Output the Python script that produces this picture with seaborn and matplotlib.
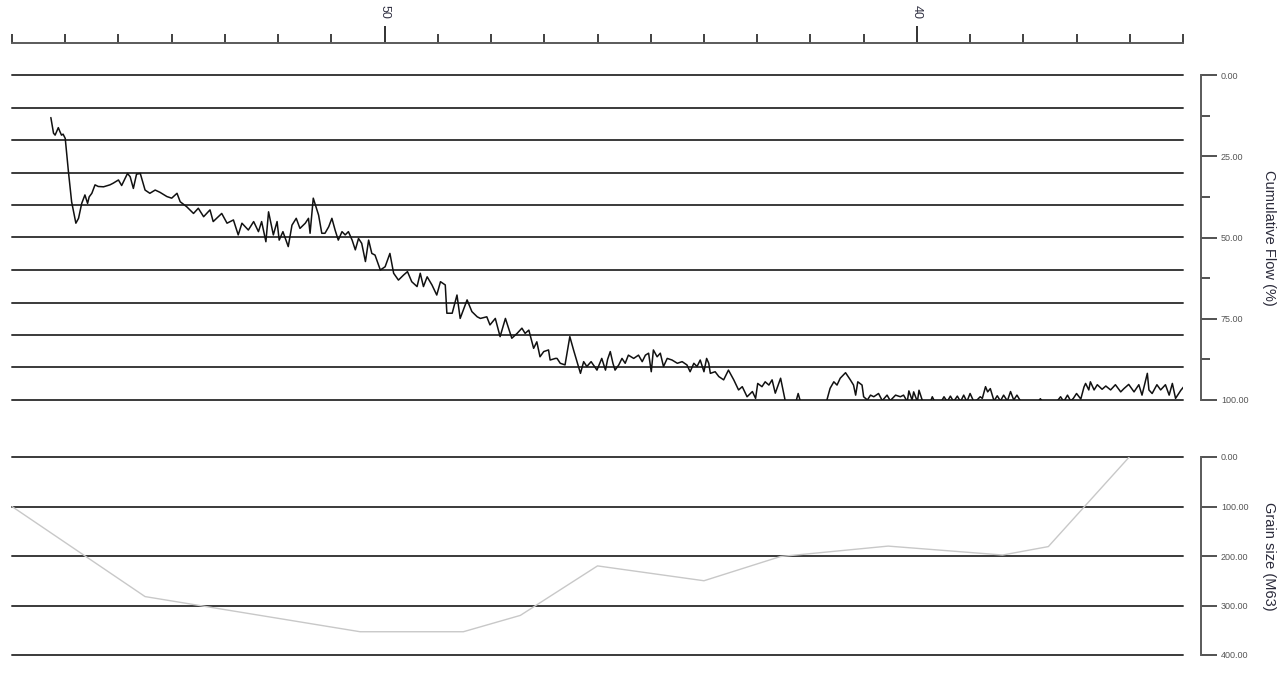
import matplotlib
matplotlib.use("Agg")
import matplotlib.pyplot as plt
import seaborn as sns
import pandas as pd
from matplotlib.ticker import FixedLocator, FuncFormatter

# ---- data -------------------------------------------------------------
# depth scale (top axis), reversed: 57 on the left, 35 on the right
depth_min, depth_max = 35, 57
depth_labels = [50, 40]

# cumulative flow (%) along depth
flow_depth = [
    56.27, 56.22, 56.19, 56.13, 56.10, 56.07, 56.04, 56.00, 55.94, 55.88,
    55.80, 55.75, 55.69, 55.63, 55.58, 55.55, 55.50, 55.44, 55.38, 55.28,
    55.16, 55.10, 55.00, 54.94, 54.83, 54.78, 54.72, 54.66, 54.59, 54.50,
    54.41, 54.31, 54.22, 54.09, 54.00, 53.90, 53.84, 53.72, 53.59, 53.50,
    53.40, 53.28, 53.22, 53.06, 52.96, 52.84, 52.75, 52.68, 52.56, 52.46,
    52.37, 52.31, 52.23, 52.18, 52.09, 52.02, 51.98, 51.91, 51.81, 51.74,
    51.66, 51.59, 51.49, 51.43, 51.40, 51.34, 51.24, 51.18, 51.12, 51.05,
    50.99, 50.93, 50.87, 50.80, 50.74, 50.68, 50.61, 50.55, 50.49, 50.43,
    50.36, 50.30, 50.24, 50.18, 50.08, 49.99, 49.90, 49.83, 49.74, 49.64,
    49.57, 49.49, 49.39, 49.33, 49.27, 49.20, 49.11, 49.02, 48.95, 48.86,
    48.83, 48.73, 48.64, 48.58, 48.45, 48.36, 48.26, 48.20, 48.08, 48.02,
    47.92, 47.83, 47.73, 47.67, 47.61, 47.51, 47.42, 47.36, 47.29, 47.20,
    47.14, 47.08, 47.01, 46.92, 46.89, 46.79, 46.76, 46.70, 46.61, 46.52,
    46.45, 46.32, 46.26, 46.20, 46.12, 46.01, 45.92, 45.85, 45.81, 45.76,
    45.71, 45.67, 45.60, 45.54, 45.48, 45.42, 45.32, 45.23, 45.16, 45.10,
    45.04, 44.99, 44.95, 44.88, 44.82, 44.76, 44.69, 44.60, 44.50, 44.41,
    44.32, 44.26, 44.19, 44.13, 44.07, 44.00, 43.95, 43.91, 43.88, 43.79,
    43.72, 43.63, 43.54, 43.44, 43.35, 43.28, 43.19, 43.09, 43.03, 42.99,
    42.91, 42.85, 42.78, 42.72, 42.66, 42.56, 42.47, 42.38, 42.28, 42.23,
    42.17, 42.00, 41.81, 41.69, 41.63, 41.56, 41.50, 41.44, 41.34, 41.25,
    41.19, 41.15, 41.11, 41.03, 41.00, 40.93, 40.87, 40.81, 40.72, 40.65,
    40.56, 40.50, 40.40, 40.31, 40.25, 40.18, 40.15, 40.09, 40.06, 39.99,
    39.96, 39.90, 39.84, 39.78, 39.71, 39.65, 39.56, 39.49, 39.43, 39.37,
    39.31, 39.24, 39.18, 39.12, 39.06, 39.00, 38.93, 38.87, 38.81, 38.77,
    38.71, 38.67, 38.62, 38.55, 38.49, 38.43, 38.37, 38.30, 38.24, 38.18,
    38.12, 38.05, 37.99, 37.86, 37.74, 37.68, 37.62, 37.49, 37.36, 37.30,
    37.24, 37.17, 37.11, 37.06, 37.00, 36.92, 36.86, 36.83, 36.77, 36.74,
    36.67, 36.61, 36.52, 36.45, 36.36, 36.27, 36.17, 36.11, 36.02, 35.92,
    35.83, 35.77, 35.70, 35.67, 35.64, 35.58, 35.49, 35.42, 35.33, 35.26,
    35.20, 35.14, 35.04, 34.99,
]
flow_pct = [
    13.1, 17.9, 18.5, 16.2, 17.4, 18.5, 18.2, 19.5, 29.7, 39.0,
    45.6, 44.1, 39.5, 36.9, 39.5, 37.5, 36.4, 33.8, 34.3, 34.4,
    33.8, 33.3, 32.3, 34.0, 30.3, 31.3, 34.9, 30.5, 30.3, 35.4,
    36.4, 35.4, 36.1, 37.4, 37.9, 36.4, 39.0, 40.5, 42.6, 41.0,
    43.6, 41.5, 45.1, 42.6, 45.6, 44.6, 49.2, 45.6, 47.7, 45.1,
    48.2, 45.1, 51.3, 42.1, 49.2, 45.1, 50.8, 48.2, 52.8, 46.2,
    44.1, 47.2, 45.6, 44.1, 48.7, 37.9, 43.1, 48.7, 48.7, 46.7,
    44.1, 47.7, 50.8, 48.2, 49.2, 48.2, 50.8, 53.8, 50.3, 51.8,
    57.4, 50.8, 54.9, 55.4, 60.0, 59.0, 54.9, 61.0, 63.1, 61.5,
    60.5, 63.6, 65.1, 61.0, 65.1, 62.1, 64.6, 67.7, 63.6, 64.6,
    73.3, 73.3, 67.7, 74.9, 69.2, 72.8, 74.4, 74.9, 74.4, 76.9,
    74.9, 80.5, 74.9, 77.9, 81.0, 79.5, 77.9, 79.5, 78.5, 84.1,
    82.1, 86.7, 85.1, 84.6, 87.7, 87.2, 87.2, 88.7, 89.2, 80.5,
    84.6, 91.8, 88.2, 89.7, 88.2, 90.8, 87.2, 90.8, 87.5, 85.1,
    88.7, 90.8, 89.2, 87.2, 88.7, 86.2, 87.2, 86.2, 88.2, 86.2,
    85.6, 91.3, 84.6, 86.7, 85.6, 89.7, 87.2, 87.7, 88.7, 88.2,
    89.2, 91.3, 88.7, 89.7, 87.7, 91.3, 87.2, 88.7, 91.8, 91.3,
    92.8, 93.8, 90.8, 93.8, 96.9, 95.9, 99.0, 97.4, 99.5, 94.9,
    95.9, 94.4, 95.4, 93.8, 97.9, 93.3, 100.5, 103.0, 101.0, 98.0,
    101.5, 104.0, 102.0, 100.0, 96.4, 94.4, 95.4, 93.3, 91.6, 93.8,
    95.4, 98.5, 94.4, 95.4, 99.0, 100.0, 98.5, 99.0, 98.0, 100.2,
    98.5, 100.2, 98.5, 99.0, 98.5, 100.5, 97.2, 100.0, 97.5, 100.5,
    97.0, 100.0, 101.0, 102.0, 99.0, 101.0, 101.0, 99.0, 100.5, 98.8,
    100.5, 98.8, 100.5, 98.5, 100.5, 98.0, 100.5, 100.0, 99.0, 99.5,
    95.9, 97.5, 96.5, 100.3, 98.7, 100.3, 98.5, 100.3, 97.4, 100.0,
    98.5, 100.4, 102.0, 103.0, 101.0, 99.6, 101.0, 103.0, 100.3, 99.0,
    100.5, 98.5, 100.3, 99.5, 98.0, 99.7, 96.0, 94.9, 96.9, 94.4,
    96.9, 95.3, 96.7, 95.7, 96.9, 95.3, 97.5, 96.5, 95.2, 97.5,
    95.3, 98.5, 93.8, 91.8, 96.9, 98.0, 95.3, 96.9, 95.3, 98.5,
    94.9, 99.5, 97.0, 96.0,
]

# grain size (M63) along depth
grain_depth = [57.0, 54.5, 50.46, 48.52, 47.45, 46.0, 44.0, 42.56, 40.54, 38.39, 37.53, 36.01]
grain_size = [100, 282, 353, 353, 320, 220, 250, 201, 180, 198, 181, 0]

flow_grid = list(range(0, 101, 10))
flow_major = [0, 25, 50, 75, 100]
flow_minor = [12.5, 37.5, 62.5, 87.5]
grain_grid = [0, 100, 200, 300, 400]

flow_title = "Cumulative Flow (%)"
grain_title = "Grain size (M63)"

# ---- style ------------------------------------------------------------
sns.set_theme(style="white")
plt.rcParams["font.family"] = ["Liberation Sans", "DejaVu Sans"]

W_PX, H_PX = 1287, 685
fig = plt.figure(figsize=(W_PX / 100, H_PX / 100), dpi=100)

def fx(px):
    return px / W_PX

def fy(py):
    return 1 - py / H_PX

left, right = 12, 1183
GRID_C = "#3a3a3a"
SPINE_C = "#5a5a5a"
TXT_C = "#555555"
PT = 72 / 100  # points per pixel

# ---- depth scale on top ------------------------------------------------
ax_t = fig.add_axes([fx(left), fy(43), fx(right - left), 1e-4])
ax_t.set_xlim(depth_max, depth_min)
for s in ["left", "right", "bottom"]:
    ax_t.spines[s].set_visible(False)
ax_t.spines["top"].set_color(SPINE_C)
ax_t.spines["top"].set_linewidth(1.4)
ax_t.set_yticks([])
ax_t.xaxis.tick_top()
ax_t.xaxis.set_major_locator(FixedLocator(depth_labels))
ax_t.xaxis.set_minor_locator(FixedLocator(
    [d for d in range(depth_min, depth_max + 1) if d not in depth_labels]))
ax_t.set_xticklabels([str(d) for d in depth_labels], rotation=270)
ax_t.tick_params(axis="x", which="major", direction="out", length=17 * PT,
                 width=1.3, color="#222222", labelsize=9, pad=7 * PT,
                 labelcolor="#333344")
ax_t.tick_params(axis="x", which="minor", direction="out", length=9 * PT,
                 width=1.3, color="#333333")


def panel(top_px, bot_px, lo, hi, grid, depth, vals, color, lw,
          major, minor, title):
    ax = fig.add_axes([fx(left), fy(bot_px), fx(right - left), (bot_px - top_px) / H_PX])
    sns.lineplot(x=depth, y=vals, ax=ax, color=color, linewidth=lw,
                 sort=False, estimator=None, zorder=3)
    ax.set_xlim(depth_max, depth_min)
    ax.set_ylim(hi, lo)
    for g in grid:
        ax.axhline(g, color=GRID_C, linewidth=1.4, clip_on=False, zorder=2)
    for s in ax.spines.values():
        s.set_visible(False)
    ax.set_xticks([])
    ax.set_yticks([])
    ax.set_xlabel("")
    ax.set_ylabel("")

    # value scale on the right
    ax2 = ax.twinx()
    ax2.set_ylim(hi, lo)
    for s in ["left", "top", "bottom"]:
        ax2.spines[s].set_visible(False)
    ax2.spines["right"].set_position(("outward", 18 * PT))
    ax2.spines["right"].set_color(SPINE_C)
    ax2.spines["right"].set_linewidth(1.4)
    ax2.yaxis.set_major_locator(FixedLocator(major))
    ax2.yaxis.set_major_formatter(FuncFormatter(lambda v, _: f"{v:.2f}"))
    if minor:
        ax2.yaxis.set_minor_locator(FixedLocator(minor))
    ax2.tick_params(axis="y", which="major", direction="out", length=16 * PT,
                    width=1.2, color="#333333", labelsize=6.5, pad=4 * PT,
                    labelcolor=TXT_C)
    ax2.tick_params(axis="y", which="minor", direction="out", length=9 * PT,
                    width=1.2, color="#333333")
    fig.text(fx(1269), fy((top_px + bot_px) / 2), title, rotation=270,
             ha="center", va="center", fontsize=10.5, color="#2a2a3a")
    return ax


panel(75, 400, 0, 100, flow_grid, flow_depth, flow_pct, "#111111", 1.1,
      flow_major, flow_minor, flow_title)
panel(457, 655, 0, 400, grain_grid, grain_depth, grain_size, "#c8c8c8", 1.0,
      grain_grid, None, grain_title)

fig.savefig("out.png", dpi=100, facecolor="white")
